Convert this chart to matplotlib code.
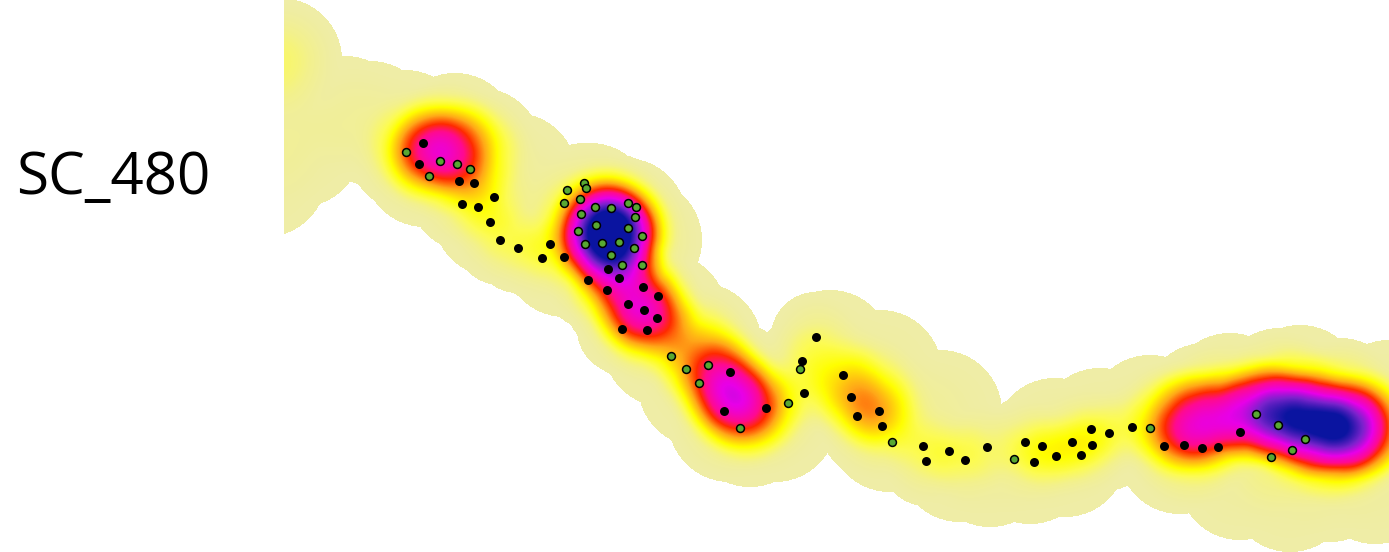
"""Kernel density strip for SC_480 with survey points on top."""

from __future__ import annotations

import matplotlib

matplotlib.use("Agg")
import matplotlib.pyplot as plt
import numpy as np
from matplotlib.colors import LinearSegmentedColormap

LABEL = "SC_480"

# positions are read in image pixels
black_x = [423, 419, 459, 474, 494, 462, 478, 490, 500, 518, 550, 542, 564, 608, 619, 588, 607, 643, 658, 628, 644, 657, 622, 647,
           816, 802, 804, 843, 851, 879, 857, 882, 730, 724, 766, 923, 926, 949, 965, 987,
           1025, 1042, 1034, 1056, 1072, 1091, 1092, 1081, 1109, 1132, 1164, 1184, 1202, 1218, 1240]
black_y = [143, 164, 181, 183, 197, 204, 207, 222, 240, 248, 244, 258, 257, 269, 278, 280, 290, 287, 296, 304, 310, 318, 329, 330,
           337, 361, 393, 375, 397, 411, 416, 426, 372, 411, 408, 446, 461, 451, 460, 447,
           442, 446, 462, 456, 442, 429, 445, 455, 433, 427, 446, 445, 448, 447, 432]
green_x = [406, 440, 457, 470, 429, 567, 584, 586, 564, 580, 581, 595, 611, 628, 636, 635, 596, 578, 628, 642, 585, 602, 619, 634, 611, 622, 642,
           671, 686, 708, 699, 740, 788, 800, 892, 1014, 1150, 1256, 1278, 1305, 1292, 1271]
green_y = [152, 161, 164, 169, 176, 190, 183, 188, 203, 199, 214, 207, 208, 203, 207, 217, 225, 231, 228, 236, 244, 243, 242, 248, 255, 265, 265,
           356, 369, 365, 383, 428, 403, 369, 442, 459, 428, 414, 425, 439, 450, 457]

# faint sources that set the outer edge of the surface
edge_x = [268, 275, 265, 300, 345, 370, 405, 440, 480, 515, 545, 585, 625, 620, 470, 495, 530, 565, 600, 640, 665, 700, 665, 700, 730, 750, 775, 790,
          830, 880, 890, 910, 940, 960, 990, 1030, 1065, 1100, 1150, 1180, 1240, 1290, 1330, 1375, 1240, 1300, 1345, 1389]
edge_y = [68, 120, 175, 145, 118, 123, 132, 145, 158, 175, 205, 205, 225, 240, 190, 215, 232, 255, 270, 320, 315, 345, 345, 385, 405, 425, 420, 400,
          352, 372, 430, 410, 412, 460, 465, 462, 455, 430, 417, 452, 478, 490, 480, 482, 422, 387, 402, 402]

# strong sources behind the hot areas
hot_x = [280, 420, 445, 470, 440, 425, 480, 410, 455,
         590, 610, 600, 620, 610, 595, 625, 605, 625, 645, 650, 610, 612, 640, 580,
         700, 715, 730, 745, 730, 760, 695, 755, 735,
         830, 862, 880, 875, 1055,
         1180, 1200, 1225, 1250, 1270, 1300, 1330, 1360, 1300, 1340, 1340, 1360, 1320, 1230, 1280, 1190, 1280, 1375, 1170, 1205]
hot_y = [60, 145, 140, 150, 160, 165, 150, 150, 135,
         205, 215, 235, 235, 250, 222, 220, 270, 295, 305, 325, 225, 245, 240, 225,
         355, 375, 395, 410, 420, 415, 345, 405, 385,
         375, 392, 420, 400, 440,
         420, 420, 420, 410, 415, 425, 425, 425, 400, 400, 450, 440, 450, 395, 390, 450, 455, 425, 420, 405]
hot_w = [.06, .10, .16, .12, .15, .05, .05, .05, .03,
         .05, .20, .25, .25, .20, .10, .10, .06, .15, .20, .14, .08, .08, .06, .05,
         .10, .18, .17, .14, .06, .05, .08, .08, .08,
         .06, .10, .07, .05, .02,
         .14, .18, .12, .20, .34, .38, .30, .28, .14, .14, .14, .12, .10, .06, .10, .08, .05, .12, .08, .08]

EDGE_RADIUS = 62
DOT_RADIUS = 45
EDGE_W = 0.012
DOT_W = 0.035

stops = [0.0, 0.04, 0.09, 0.16, 0.28, 0.40, 0.50, 0.66, 0.82, 1.0]
stop_colors = ["#efeda6", "#f3f18c", "#fcfb55", "#ffff00", "#ffa818", "#ff2a00", "#ff0a90", "#e800e8", "#7a22cc", "#0a14a0"]


def density_grid(xs, ys, ws, radius, gx, gy):
    field = np.zeros_like(gx, dtype=float)
    for x, y, w in zip(xs, ys, ws):
        d2 = ((gx - x) ** 2 + (gy - y) ** 2) / radius**2
        field += w * np.where(d2 < 1, (1 - d2) ** 2, 0)
    return field


def main() -> None:
    gx, gy = np.meshgrid(np.arange(284, 1389) + 0.5, np.arange(0, 552) + 0.5)
    field = density_grid(edge_x, edge_y, [EDGE_W] * len(edge_x), EDGE_RADIUS, gx, gy)
    field += density_grid(hot_x, hot_y, hot_w, EDGE_RADIUS, gx, gy)
    field += density_grid(black_x, black_y, [DOT_W] * len(black_x), DOT_RADIUS, gx, gy)

    cmap = LinearSegmentedColormap.from_list("heat", list(zip(stops, stop_colors)), N=512)
    cmap.set_bad("white")

    fig = plt.figure(figsize=(13.89, 5.52), dpi=100)
    ax = fig.add_axes([0, 0, 1, 1])
    ax.imshow(np.ma.masked_less_equal(field, 0), cmap=cmap, vmin=0, vmax=1,
              extent=(284, 1389, 552, 0), interpolation="bilinear", aspect="auto")
    ax.scatter(black_x, black_y, s=42, c="black", linewidths=0, zorder=3)
    ax.scatter(green_x, green_y, s=32, c="#58a832", edgecolors="black", linewidths=1.1, zorder=4)
    ax.text(16, 179, LABEL, fontsize=42, family="Open Sans", va="center", ha="left", color="black")
    ax.set_xlim(0, 1389)
    ax.set_ylim(552, 0)
    ax.axis("off")
    fig.savefig("out.png", dpi=100)


if __name__ == "__main__":
    main()
